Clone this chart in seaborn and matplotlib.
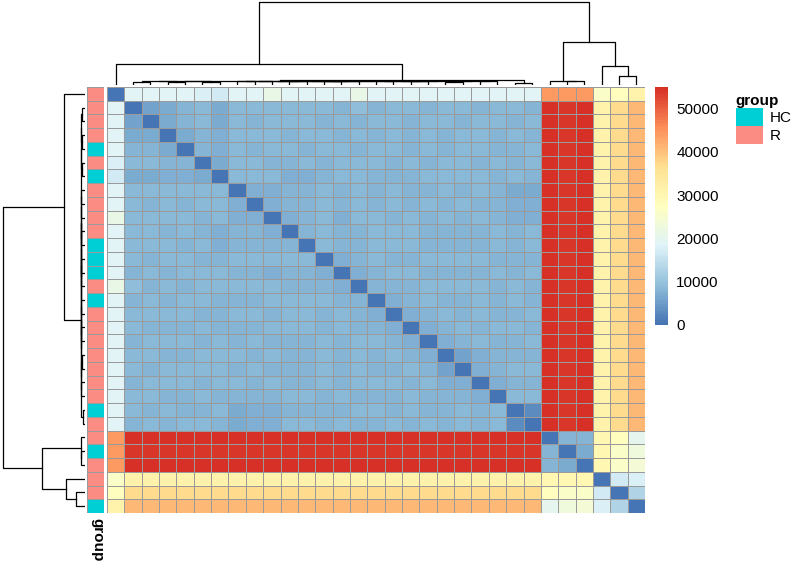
import numpy as np
import pandas as pd
import matplotlib
matplotlib.use("Agg")
import matplotlib.pyplot as plt
import seaborn as sns
from matplotlib.colors import LinearSegmentedColormap, ListedColormap
from matplotlib.patches import Patch

plt.rcParams['font.family'] = ['Liberation Sans', 'DejaVu Sans']

# ---------------- data (distances in thousands, display order) ----------------
groups = ["R","R","R","R","R","HC","R","HC","R","R","R","HC","R","R","R","R","R","R","R",
          "HC","HC","R","R","HC","HC","R","HC","R","R","R","HC"]

row1_to_blue = [19,19,18,19,19,19,19,19,21,19,19,19,19,19,19,19,19,19,19,19,21,19,17,19]
row1_to_red = [44,44,44]
row1_to_yellow = [26,28,31]

blue_upper = [
    "6 8.5 7 8 8.5 8.5 8 8.5 8.5 8 8.5 8.5 8 8.5 8.5 8 8.5 8.5 8 9 8.5 7 8.5",
    "8.5 7 8 8.5 8 8.5 8.5 8 8.5 8.5 8 8.5 8.5 8 8.5 8.5 8 8.5 8 8.5 7 8.5",
    "8 8 8.5 8 8.5 8 8.5 8.5 8 8.5 8 8.5 8.5 8 8.5 8 8.5 8.5 8 7 8.5",
    "7 8.5 8.5 8 8.5 8.5 8 8.5 8 8.5 8 8.5 8.5 8 8.5 8 8.5 8 7.5 8.5",
    "8.5 8 8.5 8.5 8 8.5 8.5 8 8.5 8 8.5 8.5 8 8.5 8.5 8 8.5 7.5 8",
    "7 7 7.5 7.5 8 8.5 8 8 8.5 8 8.5 8 8.5 8 8.5 8 8.5 8",
    "3 7.5 7.5 8.5 8 8.5 8 8 8.5 8 8.5 8 8 8.5 8 8.5 8",
    "7.5 7.5 8 8.5 8 8.5 8 8.5 8 8.5 8 8.5 8 8.5 8 8.5",
    "7.5 8.5 8 8.5 8 8.5 8 8.5 8 8.5 7.5 8.5 7.5 8.5 8",
    "8 8.5 8 8.5 8 8.5 8 8 8.5 8 8.5 8 8.5 8",
    "7.5 8 8.5 8 8 8.5 8 8.5 8 8 8.5 8 8.5",
    "7.5 8 8.5 8 8.5 8 8 8.5 8 8.5 8 8.5",
    "7.5 8 8.5 8 8.5 8 8.5 8 8.5 8 8.5",
    "7.5 8 8.5 8 8.5 8 8.5 8 8.5 8",
    "6 7.5 8 8.5 8 8.5 8 8.5 8",
    "7.5 8 8.5 8 8.5 8 8.5 8",
    "7.5 8.5 8 8.5 8 8.5 8",
    "8 8.5 8 8.5 8 8.5",
    "7.5 8 8.5 8 8.5",
    "7.5 8 8.5 8",
    "8 8.5 8",
    "7.5 8",
    "7.5",
]
blue_to_red = [55,54,55]
blue_to_yellow = [31,37,41]
red_upper = ["8 8", "7"]
red_to_yellow = [[30,28,20],[30,26,23],[30,26,24]]
yellow_upper = ["17 18", "13"]

# ---------------- assemble symmetric matrix ----------------
n = len(groups)
M = np.zeros((n, n))
def setv(i, j, v):
    M[i, j] = v * 1000; M[j, i] = v * 1000
for k, v in enumerate(row1_to_blue): setv(0, 1 + k, v)
for k, v in enumerate(row1_to_red): setv(0, 25 + k, v)
for k, v in enumerate(row1_to_yellow): setv(0, 28 + k, v)
for r, s in enumerate(blue_upper):
    i = 1 + r
    for k, v in enumerate(s.split()): setv(i, i + 1 + k, float(v))
for i in range(1, 25):
    for k, v in enumerate(blue_to_red): setv(i, 25 + k, v)
    for k, v in enumerate(blue_to_yellow): setv(i, 28 + k, v)
for r, s in enumerate(red_upper):
    i = 25 + r
    for k, v in enumerate(s.split()): setv(i, i + 1 + k, float(v))
for r in range(3):
    for k, v in enumerate(red_to_yellow[r]): setv(25 + r, 28 + k, v)
for r, s in enumerate(yellow_upper):
    i = 28 + r
    for k, v in enumerate(s.split()): setv(i, i + 1 + k, float(v))

# ---------------- complete-linkage clustering (numpy) ----------------
X = M
E = np.sqrt(((X[:, None, :] - X[None, :, :]) ** 2).sum(-1))
clusters = {i: [i] for i in range(n)}
children = {}
heights = {i: 0.0 for i in range(n)}
nid = n
while len(clusters) > 1:
    keys = list(clusters)
    best = None
    for a in range(len(keys)):
        for b in range(a + 1, len(keys)):
            ka, kb = keys[a], keys[b]
            d = E[np.ix_(clusters[ka], clusters[kb])].max()
            if best is None or d < best[0]:
                best = (d, ka, kb)
    d, ka, kb = best
    if min(clusters[ka]) > min(clusters[kb]):
        ka, kb = kb, ka
    clusters[nid] = clusters.pop(ka) + clusters.pop(kb)
    children[nid] = (ka, kb)
    heights[nid] = d
    nid += 1
root = nid - 1

def leaves(node):
    if node < n:
        return [node]
    a, b = children[node]
    return leaves(a) + leaves(b)
order = leaves(root)
pos = {leaf: i + 0.5 for i, leaf in enumerate(order)}
def xpos(node):
    if node in pos:
        return pos[node]
    a, b = children[node]
    pos[node] = (xpos(a) + xpos(b)) / 2
    return pos[node]
xpos(root)

Mo = M[np.ix_(order, order)]
go = [groups[i] for i in order]

# ---------------- figure ----------------
W, H = 800, 571
fig = plt.figure(figsize=(W / 100, H / 100), dpi=100)
def ax_px(x0, y0, x1, y1):
    return fig.add_axes([x0 / W, 1 - y1 / H, (x1 - x0) / W, (y1 - y0) / H])

ax_hm = ax_px(107, 87, 645, 513)
ax_cd = ax_px(107, 1, 645, 85)
ax_rd = ax_px(2, 87, 85, 513)
ax_an = ax_px(87, 87, 104, 513)
ax_cb = ax_px(655, 87, 668, 325)

cmap = LinearSegmentedColormap.from_list(
    "rdylbu", ["#4575B4", "#91BFDB", "#E0F3F8", "#FFFFBF", "#FEE090", "#FC8D59", "#D73027"], N=100)
vmax = M.max()
sns.heatmap(pd.DataFrame(Mo), ax=ax_hm, cmap=cmap, vmin=0, vmax=vmax,
            linewidths=0.5, linecolor="#9a9a9a", cbar_ax=ax_cb,
            xticklabels=False, yticklabels=False)
cbar = ax_hm.collections[0].colorbar
cbar.outline.set_visible(False)
cbar.set_ticks([0, 10000, 20000, 30000, 40000, 50000])
cbar.set_ticklabels(["0", "10000", "20000", "30000", "40000", "50000"], fontsize=11)
ax_cb.tick_params(length=0, pad=6)

ann_colors = {"HC": "#00CFD6", "R": "#FA8C84"}
codes = np.array([[0 if g == "HC" else 1] for g in go])
sns.heatmap(codes, ax=ax_an, cmap=ListedColormap([ann_colors["HC"], ann_colors["R"]]),
            vmin=-0.5, vmax=1.5, cbar=False, linewidths=0.5, linecolor="#9a9a9a",
            xticklabels=False, yticklabels=False)
fig.text(97 / W, 1 - 518 / H, "group", rotation=270, ha="center", va="top",
         fontsize=11, fontweight="bold")

hmax = heights[root]
def draw(ax, horizontal):
    for node, (a, b) in children.items():
        h = heights[node]
        xa, xb = pos[a], pos[b]
        ha_, hb_ = heights[a], heights[b]
        xs = [xa, xa, xb, xb]
        ys = [ha_, h, h, hb_]
        if horizontal:
            ax.plot(xs, ys, color="black", lw=0.9)
        else:
            ax.plot(ys, xs, color="black", lw=0.9)
draw(ax_cd, True)
ax_cd.set_xlim(0, n); ax_cd.set_ylim(0, hmax * 1.01)
draw(ax_rd, False)
ax_rd.set_ylim(n, 0); ax_rd.set_xlim(hmax * 1.01, 0)
for a in (ax_cd, ax_rd):
    a.axis("off")

handles = [Patch(facecolor=ann_colors["HC"], edgecolor="none", label="HC"),
           Patch(facecolor=ann_colors["R"], edgecolor="none", label="R")]
leg = fig.legend(handles=handles, title="group", loc="upper left",
                 bbox_to_anchor=(722 / W, 1 - 80 / H), frameon=False, fontsize=11,
                 title_fontproperties={"weight": "bold", "size": 11},
                 handlelength=1.8, handleheight=1.45, handletextpad=0.4, labelspacing=0.0)
leg._legend_box.align = "left"

fig.savefig("out.png", dpi=100)
